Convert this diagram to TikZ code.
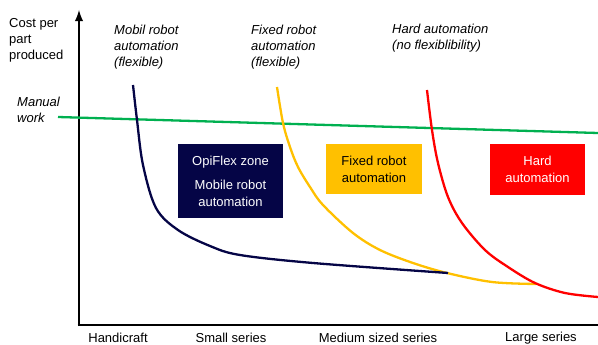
\documentclass[tikz,border=0pt]{standalone}
\usepackage{fontspec}
\setmainfont{Liberation Sans}
\usepackage{tikz}
\usetikzlibrary{arrows}
\definecolor{navy}{RGB}{5,5,70}
\definecolor{amber}{RGB}{255,192,0}
\definecolor{hardred}{RGB}{255,0,0}
\definecolor{manualgreen}{RGB}{0,176,80}
\tikzset{l/.style={font=\fontsize{13}{16}\selectfont,inner sep=0pt,align=left}}
\tikzset{li/.style={l,font=\fontsize{13}{16}\selectfont\itshape}}
\tikzset{zone/.style={font=\fontsize{13}{17}\selectfont,align=center,inner sep=0pt}}
\tikzset{curve/.style={line width=2.3pt,smooth,tension=.55}}

\begin{document}
\begin{tikzpicture}[x=1pt,y=-1pt,line join=round]
            \useasboundingbox (0,0) rectangle (598,345);
            % axes
            \draw[line width=2.8pt,-latex] (79,326) -- (79,10);
            \draw[line width=2.8pt] (77.6,325) -- (598,325);
            % labels
            \node[l,anchor=west] (cost) at (9,40) {Cost per\\part\\produced};
            \node[li,anchor=west] (manual) at (17,110) {Manual\\work};
            \node[li,anchor=west] (mobil) at (114,47) {Mobil robot\\automation\\(flexible)};
            \node[li,anchor=west] (fixed) at (251,47) {Fixed robot\\automation\\(flexible)};
            \node[li,anchor=west] (hard) at (392,38) {Hard automation\\(no flexiblibility)};
            % manual work
            \draw[line width=2.3pt,manualgreen] (58,117) -- (598,133);
            % cost curves
            \draw[curve,amber] plot coordinates {(277,87) (283,123) (290,147) (298,167) (310,187) (323,205) (353,233) (380,250) (413,263) (447,273) (492,282) (536,284)};
            \draw[curve,navy] plot coordinates {(133,85) (137,120) (143,165) (156,208) (178,230) (210,246) (240,255) (313,263) (448,273)};
            \draw[curve,hardred] plot coordinates {(427,90) (432,130) (438,163) (448,197) (462,223) (485,250) (508,267) (535,283) (565,293) (598,297)};
            % zones
            \node[zone,fill=navy,text=white,minimum width=105pt,minimum height=74pt] (opiflex) at (230.5,181) {OpiFlex zone\\[7pt]Mobile robot\\automation};
            \node[zone,fill=amber,text=black,minimum width=96pt,minimum height=50pt] (fixedzone) at (374,169) {Fixed robot\\automation};
            \node[zone,fill=hardred,text=white,minimum width=95pt,minimum height=51pt] (hardzone) at (537.5,169.5) {Hard\\automation};
            % series
            \node[l] (handicraft) at (118,338) {Handicraft};
            \node[l] (small) at (231,338) {Small series};
            \node[l] (medium) at (378,338) {Medium sized series};
            \node[l] (large) at (541,338) {Large series};
          \end{tikzpicture}
\end{document}
